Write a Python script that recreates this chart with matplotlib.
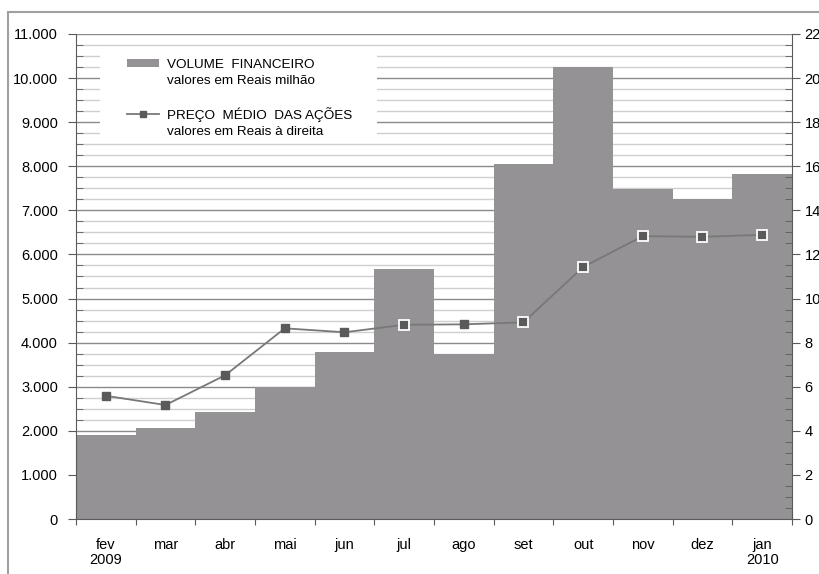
import matplotlib
matplotlib.use('Agg')
import matplotlib.pyplot as plt
from matplotlib.patches import Patch, Rectangle
from matplotlib.lines import Line2D
from matplotlib.ticker import MultipleLocator, FuncFormatter
import numpy as np

plt.rcParams['font.family'] = ['Liberation Sans', 'DejaVu Sans']

meses = ['fev\n2009', 'mar', 'abr', 'mai', 'jun', 'jul', 'ago', 'set', 'out', 'nov', 'dez', 'jan\n2010']
volume = [1900, 2060, 2420, 3000, 3780, 5660, 3740, 8040, 10260, 7490, 7260, 7830]  # R$ milhão
preco = [5.59, 5.17, 6.52, 8.65, 8.47, 8.81, 8.83, 8.92, 11.43, 12.83, 12.80, 12.89]  # R$

bar_color = '#949294'
axis_color = '#5a5a5a'

fig = plt.figure(figsize=(8.19, 5.74), dpi=100)
ax = fig.add_axes([0.0928, 0.0958, 0.8742, 0.845])
ax2 = ax.twinx()

x = np.arange(len(meses))

# bars (left axis)
ax.bar(x, volume, width=1.0, color=bar_color, edgecolor='none', zorder=2)
ax.set_xlim(-0.5, len(meses) - 0.5)
ax.set_ylim(0, 11000)
ax.yaxis.set_major_locator(MultipleLocator(1000))
ax.yaxis.set_minor_locator(MultipleLocator(250))
ax.yaxis.set_major_formatter(FuncFormatter(lambda v, p: f'{v:,.0f}'.replace(',', '.')))
ax.set_axisbelow(True)
ax.grid(which='major', axis='y', color='#8a8a8a', linewidth=1.0, zorder=0)
ax.grid(which='minor', axis='y', color='#cfcfcf', linewidth=1.0, zorder=0)

# x ticks at category boundaries, labels centred
ax.set_xticks(np.arange(len(meses) + 1) - 0.5)
ax.set_xticklabels([])
ax.set_xticks(x, minor=True)
ax.set_xticklabels(meses, minor=True, fontsize=10.5, linespacing=1.05)
ax.tick_params(axis='x', which='major', direction='inout', length=8, color=axis_color)
ax.tick_params(axis='x', which='minor', length=0, pad=14)

ax.tick_params(axis='y', which='major', direction='out', length=6, color=axis_color, labelsize=10.5, pad=7)
ax.tick_params(axis='y', which='minor', direction='in', length=5, color=axis_color)

for s in ['top', 'right']:
    ax.spines[s].set_visible(False)
for s in ['left', 'bottom']:
    ax.spines[s].set_color(axis_color)

# price line (right axis)
ax2.plot(x, preco, color='#787878', linewidth=1.3, zorder=3)
vol_scaled = np.array(volume) / 500.0
preco_arr = np.array(preco)
on_bar = preco_arr < vol_scaled
ax2.plot(x[~on_bar], preco_arr[~on_bar], linestyle='none', marker='s', markersize=6,
         markerfacecolor='#5a5a5a', markeredgecolor='#5a5a5a', zorder=4)
ax2.plot(x[on_bar], preco_arr[on_bar], linestyle='none', marker='s', markersize=7,
         markerfacecolor='#5a5a5a', markeredgecolor='white', markeredgewidth=1.3, zorder=4)
ax2.set_ylim(0, 22)
ax2.yaxis.set_major_locator(MultipleLocator(2))
ax2.yaxis.set_minor_locator(MultipleLocator(0.5))
ax2.tick_params(axis='y', which='major', direction='out', length=6, color=axis_color, labelsize=10.5, pad=3)
ax2.tick_params(axis='y', which='minor', direction='in', length=5, color=axis_color)
for s in ['top', 'left', 'bottom']:
    ax2.spines[s].set_visible(False)
ax2.spines['right'].set_color(axis_color)

# white box behind the legend (covers the gridlines)
ax2.add_patch(Rectangle((0.0335, 0.779), 0.3865, 0.192, transform=ax.transAxes,
                        facecolor='white', edgecolor='none', zorder=1))

# legend: handle on the first line of each entry, second line as a blank-handle row
blank = Line2D([], [], linestyle='none')
handles = [
    Patch(facecolor=bar_color, edgecolor='none'),
    blank,
    blank,
    Line2D([0], [0], color='#787878', linewidth=1.3, marker='s', markersize=4,
           markerfacecolor='#5a5a5a', markeredgecolor='#5a5a5a'),
    blank,
]
labels = ['VOLUME  FINANCEIRO', 'valores em Reais milhão', ' ',
          'PREÇO  MÉDIO  DAS AÇÕES', 'valores em Reais à direita']
leg = ax2.legend(handles, labels, loc='upper left', bbox_to_anchor=(0.05, 0.98),
                 frameon=False, fontsize=9.7, handlelength=2.4, handleheight=0.5,
                 handletextpad=0.6, labelspacing=0.3, borderpad=0.6)
leg.set_zorder(10)

# outer chart frame
fig.patches.append(Rectangle((8 / 819, -0.1), 1.2, 1.1 - 12.5 / 574,
                             transform=fig.transFigure, fill=False,
                             edgecolor='#a0a0a0', linewidth=1.5))

fig.savefig('out.png', dpi=100)
